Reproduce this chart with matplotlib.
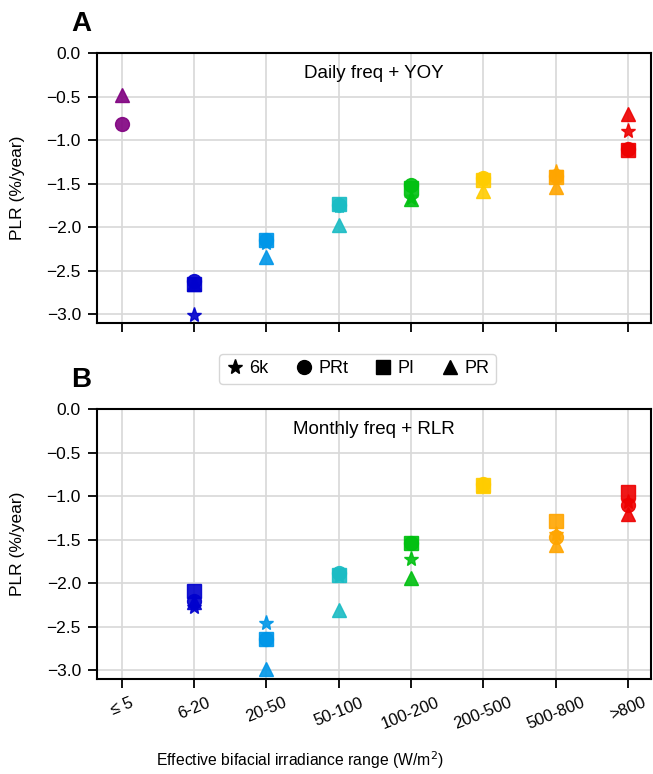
import numpy as np
import matplotlib
matplotlib.use("Agg")
import matplotlib.pyplot as plt
from matplotlib.lines import Line2D

plt.rcParams['font.family'] = ['Liberation Sans', 'DejaVu Sans']

# irradiance bins
bins = ['≤ 5', '6-20', '20-50', '50-100', '100-200', '200-500', '500-800', '>800']
colors = ['#800080', '#0000CD', '#0096E8', '#1ABCC4', '#00C010', '#FFCC00', '#FFA500', '#EE0000']
nan = np.nan

# panel A: daily freq + YOY
daily_6k  = [nan, -3.01, -2.18, -1.76, -1.66, -1.45, -1.37, -0.90]
daily_prt = [-0.81, -2.62, -2.15, -1.74, -1.51, -1.43, -1.41, -1.10]
daily_pi  = [nan, -2.65, -2.15, -1.73, -1.55, -1.46, -1.42, -1.11]
daily_pr  = [-0.48, -2.65, -2.34, -1.98, -1.68, -1.59, -1.54, -0.70]

# panel B: monthly freq + RLR
monthly_6k  = [nan, -2.27, -2.46, -1.92, -1.72, -0.87, -1.43, -1.07]
monthly_prt = [nan, -2.20, -2.64, -1.88, -1.54, -0.86, -1.47, -1.10]
monthly_pi  = [nan, -2.09, -2.64, -1.90, -1.54, -0.87, -1.29, -0.95]
monthly_pr  = [nan, -2.22, -2.99, -2.31, -1.94, -0.88, -1.56, -1.20]

metrics = ['6k', 'PRt', 'PI', 'PR']
markers = ['*', 'o', 's', '^']
msizes = [11, 10, 10, 10]

fig = plt.figure(figsize=(6.53, 7.74), dpi=100)
axA = fig.add_axes([0.1485, 0.5827, 0.8485, 0.3488])
axB = fig.add_axes([0.1485, 0.1227, 0.8485, 0.3488])

x = np.arange(len(bins))


def draw(ax, series, title):
    for vals, m, ms in zip(series, markers, msizes):
        for i in range(len(bins)):
            if not np.isnan(vals[i]):
                ax.plot(x[i], vals[i], marker=m, color=colors[i], ms=ms,
                        ls='none', alpha=0.9, markeredgewidth=1, zorder=3)
    ax.set_xlim(-0.34, 7.32)
    ax.set_ylim(-3.1, 0.0)
    ax.set_yticks(np.arange(-3.0, 0.01, 0.5))
    ax.set_xticks(x)
    ax.grid(True, color='#d8d8d8', lw=1.2)
    ax.set_axisbelow(True)
    for s in ax.spines.values():
        s.set_linewidth(1.5)
    ax.tick_params(length=6.5, width=1.3, labelsize=12.5, pad=5)
    ax.set_ylabel('PLR (%/year)', fontsize=12.5)
    ax.text(0.5, 0.925, title, transform=ax.transAxes, ha='center', va='center',
            fontsize=13.5)


draw(axA, [daily_6k, daily_prt, daily_pi, daily_pr], 'Daily freq + YOY')
draw(axB, [monthly_6k, monthly_prt, monthly_pi, monthly_pr], 'Monthly freq + RLR')
axA.set_xticklabels([])
axB.set_xticklabels(bins, rotation=22, fontsize=12)
axA.yaxis.set_label_coords(-0.13, 0.5)
axB.yaxis.set_label_coords(-0.13, 0.5)

fig.text(81 / 653, 1 - 24 / 774, 'A', fontsize=20, fontweight='bold', ha='center', va='center')
fig.text(81 / 653, 1 - 380 / 774, 'B', fontsize=20, fontweight='bold', ha='center', va='center')

fig.text(300 / 653, 1 - 760 / 774, 'Effective bifacial irradiance range (W/m$^2$)',
         ha='center', va='center', fontsize=11.3)

handles = [Line2D([], [], marker=m, color='black', ls='none', ms=ms) for m, ms in zip(markers, msizes)]
fig.legend(handles, metrics, loc='center', bbox_to_anchor=(357.5 / 653, 1 - 369 / 774),
           ncol=4, fontsize=13, handletextpad=0.3, columnspacing=1.45,
           handlelength=1.0, borderpad=0.35, frameon=True, edgecolor='#cccccc')

fig.savefig('out.png', dpi=100)
